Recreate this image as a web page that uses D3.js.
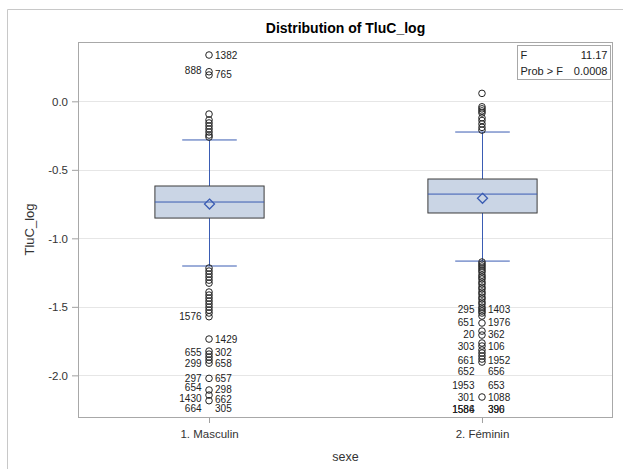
<!DOCTYPE html>
<html><head><meta charset="utf-8">
<script src="https://cdn.jsdelivr.net/npm/d3@7"></script>
<style>body{margin:0;background:#fff;}svg{display:block;font-family:"Liberation Sans",Arial,sans-serif;}</style>
</head><body>
<svg id="chart" width="623" height="469"></svg>
<script>
const categories = ["1. Masculin", "2. Féminin"];
const q1 = [-0.852, -0.815];
const median = [-0.735, -0.677];
const q3 = [-0.618, -0.567];
const mean = [-0.750, -0.708];
const whiskerLow = [-1.202, -1.166];
const whiskerHigh = [-0.282, -0.224];
const outliersMasc = [0.338, 0.216, 0.192, -0.093, -0.136, -0.158, -0.180, -0.202, -0.224, -0.246, -0.261,
  -1.217, -1.239, -1.261, -1.283, -1.305, -1.327, -1.392, -1.414, -1.436, -1.458, -1.480, -1.502, -1.524, -1.545, -1.572,
  -1.735, -1.823, -1.845, -1.867, -1.889, -1.911, -2.022, -2.107, -2.144, -2.185];
const outliersFem = [0.058, -0.040, -0.055, -0.070, -0.085, -0.120, -0.140, -0.165, -0.190, -0.210,
  -1.173, -1.188, -1.202, -1.217, -1.232, -1.246, -1.268, -1.283, -1.297, -1.319, -1.334, -1.356, -1.370, -1.392, -1.407,
  -1.429, -1.443, -1.465, -1.480, -1.502, -1.516, -1.531, -1.545, -1.567, -1.618, -1.677, -1.706, -1.764, -1.786,
  -1.815, -1.837, -1.859, -1.881, -1.903, -2.158];
const labelsMasc = [
  {v: 0.338, right: "1382"}, {v: 0.225, left: "888"}, {v: 0.195, right: "765"},
  {v: -1.572, left: "1576"}, {v: -1.735, right: "1429"},
  {v: -1.835, left: "655", right: "302"}, {v: -1.912, left: "299", right: "658"},
  {v: -2.020, left: "297", right: "657"}, {v: -2.092, left: "654"}, {v: -2.102, right: "298"},
  {v: -2.166, left: "1430"}, {v: -2.174, right: "662"}, {v: -2.242, left: "664", right: "305"}
];
const labelsFem = [
  {v: -1.518, left: "295", right: "1403"}, {v: -1.613, left: "651", right: "1976"},
  {v: -1.699, left: "20", right: "362"}, {v: -1.791, left: "303", right: "106"},
  {v: -1.888, left: "661", right: "1952"}, {v: -1.974, left: "652", right: "656"},
  {v: -2.071, left: "1953", right: "653"}, {v: -2.161, left: "301", right: "1088"},
  {v: -2.248, left: "1584", right: "390"}, {v: -2.248, left: "1586", right: "396"}
];
const yTicks = [0.0, -0.5, -1.0, -1.5, -2.0];
const statLabels = ["F", "Prob > F"];
const statValues = ["11.17", "0.0008"];

const W = 623, H = 469;
const m = {left: 78, right: 10, top: 42, bottom: 52};
const svg = d3.select("#chart");

// outer frame
svg.append("path").attr("d", `M7.5,${H+5}V9.5H${W+5}`).attr("fill", "none").attr("stroke", "#c8c8c8");

const x = d3.scalePoint().domain(categories).range([m.left, W - m.right]).padding(0.48);
const y = d3.scaleLinear().domain([-2.304, 0.433]).range([H - m.bottom, m.top]);
const step = x.step();
const boxW = step * 0.4, capW = step * 0.2;

// title
svg.append("text").attr("x", (m.left + W - m.right) / 2).attr("y", 32.5).attr("text-anchor", "middle")
  .attr("font-size", 14).attr("font-weight", "bold").attr("fill", "#000").text("Distribution of TluC_log");

// grid
const g = svg.append("g");
g.selectAll(".grid").data(yTicks).join("line")
  .attr("x1", m.left).attr("x2", W - m.right)
  .attr("y1", d => Math.round(y(d)) + 0.5).attr("y2", d => Math.round(y(d)) + 0.5)
  .attr("stroke", "#e6e6e6");

// axes
const yAxis = svg.append("g").attr("transform", `translate(${m.left},0)`)
  .call(d3.axisLeft(y).tickValues(yTicks).tickFormat(d3.format(".1f")).tickSize(6).tickPadding(4));
yAxis.select(".domain").remove();
yAxis.selectAll("line").attr("stroke", "#a0a0a0");
yAxis.selectAll("text").attr("font-size", 11.5).attr("fill", "#333").attr("font-family", "Liberation Sans, Arial, sans-serif")
  .text(d => d3.format(".1f")(d).replace("−", "-"));

const xAxis = svg.append("g").attr("transform", `translate(0,${H - m.bottom})`)
  .call(d3.axisBottom(x).tickSize(6).tickPadding(7));
xAxis.select(".domain").remove();
xAxis.selectAll("line").attr("stroke", "#a0a0a0");
xAxis.selectAll("text").attr("font-size", 11.5).attr("fill", "#333").attr("font-family", "Liberation Sans, Arial, sans-serif");

// axis labels
svg.append("text").attr("transform", `translate(34,${(m.top + H - m.bottom) / 2}) rotate(-90)`)
  .attr("text-anchor", "middle").attr("font-size", 13).attr("fill", "#333").text("TluC_log");
svg.append("text").attr("x", (m.left + W - m.right) / 2).attr("y", 461).attr("text-anchor", "middle")
  .attr("font-size", 12.5).attr("fill", "#333").text("sexe");

// boxes
const blue = "#3a5cb3";
categories.forEach((c, i) => {
  const cx = Math.round(x(c)) + 0.5;
  const bg = svg.append("g");
  bg.append("line").attr("x1", cx).attr("x2", cx).attr("y1", y(whiskerHigh[i])).attr("y2", y(q3[i])).attr("stroke", blue);
  bg.append("line").attr("x1", cx).attr("x2", cx).attr("y1", y(q1[i])).attr("y2", y(whiskerLow[i])).attr("stroke", blue);
  [whiskerHigh[i], whiskerLow[i]].forEach(v => {
    bg.append("line").attr("x1", cx - capW / 2).attr("x2", cx + capW / 2).attr("y1", y(v)).attr("y2", y(v)).attr("stroke", blue);
  });
  bg.append("rect").attr("x", cx - boxW / 2).attr("y", y(q3[i])).attr("width", boxW).attr("height", y(q1[i]) - y(q3[i]))
    .attr("fill", "#cad5e5").attr("stroke", "#3c3c3c");
  bg.append("line").attr("x1", cx - boxW / 2).attr("x2", cx + boxW / 2).attr("y1", y(median[i])).attr("y2", y(median[i])).attr("stroke", blue);
  const my = y(mean[i]), d = 5;
  bg.append("path").attr("d", `M${cx},${my - d}L${cx + d},${my}L${cx},${my + d}L${cx - d},${my}Z`)
    .attr("fill", "none").attr("stroke", blue).attr("stroke-width", 1.3);
});

// outliers
const outs = [outliersMasc, outliersFem];
const labs = [labelsMasc, labelsFem];
categories.forEach((c, i) => {
  const cx = x(c);
  svg.append("g").selectAll("circle").data(outs[i]).join("circle")
    .attr("cx", cx).attr("cy", d => y(d)).attr("r", 3.3)
    .attr("fill", "none").attr("stroke", "#222").attr("stroke-width", 1);
  const lg = svg.append("g").attr("font-size", 10).attr("fill", "#222");
  labs[i].forEach(l => {
    if (l.left) lg.append("text").attr("x", cx - 7.5).attr("y", y(l.v)).attr("dy", "0.35em").attr("text-anchor", "end").text(l.left);
    if (l.right) lg.append("text").attr("x", cx + 6).attr("y", y(l.v)).attr("dy", "0.35em").attr("text-anchor", "start").text(l.right);
  });
});

// plot frame
svg.append("rect").attr("x", m.left + 0.5).attr("y", m.top + 0.5)
  .attr("width", W - m.right - m.left - 1).attr("height", H - m.bottom - m.top)
  .attr("fill", "none").attr("stroke", "#a8a8a8");

// stats inset
const ix = 517.5, iy = 45.5, iw = 93, ih = 34;
svg.append("rect").attr("x", ix).attr("y", iy).attr("width", iw).attr("height", ih).attr("fill", "#fff").attr("stroke", "#a8a8a8");
statLabels.forEach((s, k) => {
  svg.append("text").attr("x", ix + 3).attr("y", iy + 13 + k * 16).attr("font-size", 11).attr("fill", "#222").text(s);
  svg.append("text").attr("x", ix + iw - 3).attr("y", iy + 13 + k * 16).attr("font-size", 11).attr("fill", "#222")
    .attr("text-anchor", "end").text(statValues[k]);
});
</script>
</body></html>
